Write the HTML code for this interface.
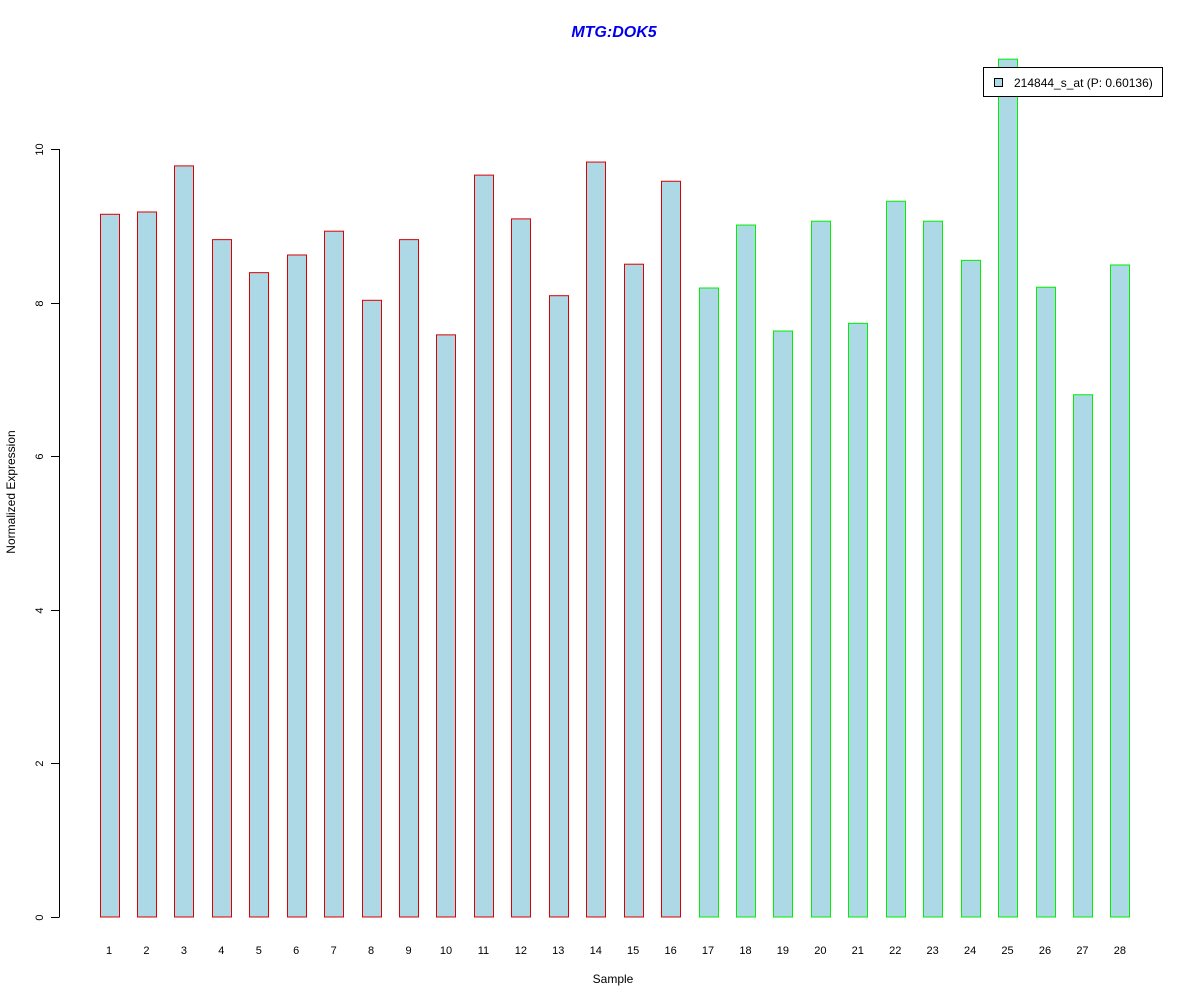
<!DOCTYPE html>
<html><head><meta charset="utf-8"><style>
body{margin:0;background:#fff;}
svg{display:block;font-family:"Liberation Sans",Arial,sans-serif;}
</style></head><body>
<svg id="chart" width="1200" height="1000" viewBox="0 0 1200 1000" xmlns="http://www.w3.org/2000/svg">
<rect width="1200" height="1000" fill="#fff"/>
<text x="614" y="37" text-anchor="middle" font-size="16" font-weight="bold" font-style="italic" fill="#0000ee">MTG:DOK5</text>
<text x="613" y="983" text-anchor="middle" font-size="12">Sample</text>
<text transform="translate(15,492) rotate(-90)" text-anchor="middle" font-size="12">Normalized Expression</text>
<g id="bars"></g>
<g id="yaxis"></g>
<g id="xlabels"></g>
<g>
<rect x="983.5" y="67.5" width="179" height="29" fill="#fff" stroke="#000"/>
<rect x="994.5" y="78.5" width="8" height="8" fill="#add8e6" stroke="#000"/>
<text x="1014" y="87" font-size="12">214844_s_at (P: 0.60136)</text>
</g>
</svg>
<script>
const categories = ["1","2","3","4","5","6","7","8","9","10","11","12","13","14","15","16","17","18","19","20","21","22","23","24","25","26","27","28"];
const values = [9.15,9.18,9.78,8.82,8.39,8.62,8.93,8.03,8.82,7.58,9.66,9.09,8.09,9.83,8.50,9.58,8.19,9.01,7.63,9.06,7.73,9.32,9.06,8.55,11.17,8.20,6.80,8.49];
const groups = ["a","a","a","a","a","a","a","a","a","a","a","a","a","a","a","a","b","b","b","b","b","b","b","b","b","b","b","b"];
const yTicks = [0,2,4,6,8,10];
const NS="http://www.w3.org/2000/svg";
const y0=917, pxPerUnit=76.8;
function yScale(v){return y0 - v*pxPerUnit;}
function xScale(i){return 109 + i*37.44;}
const bars=document.getElementById('bars');
values.forEach((v,i)=>{
  const r=document.createElementNS(NS,'rect');
  
  
  const cx=xScale(i);
  r.setAttribute('x',(Math.round(cx-9.5)+0.5));
  r.setAttribute('y',yScale(v));
  r.setAttribute('width',19);
  r.setAttribute('height',y0-yScale(v));
  r.setAttribute('fill','#add8e6');
  r.setAttribute('stroke',groups[i]==='a'?'#dd0000':'#00ee00');
  bars.appendChild(r);
  const t=document.createElementNS(NS,'text');
  
  
  t.setAttribute('x',cx);t.setAttribute('y',954);
  t.setAttribute('text-anchor','middle');t.setAttribute('font-size','11');
  t.textContent=categories[i];
  document.getElementById('xlabels').appendChild(t);
});
const ya=document.getElementById('yaxis');
const al=document.createElementNS(NS,'line');


al.setAttribute('x1',59.5);al.setAttribute('x2',59.5);
al.setAttribute('y1',yScale(yTicks[0]));al.setAttribute('y2',yScale(yTicks[yTicks.length-1]));
al.setAttribute('stroke','#000');ya.appendChild(al);
yTicks.forEach(v=>{
  const y=Math.round(yScale(v))+0.5;
  const l=document.createElementNS(NS,'line');
  
  
  l.setAttribute('x1',51);l.setAttribute('x2',59.5);l.setAttribute('y1',y);l.setAttribute('y2',y);
  l.setAttribute('stroke','#000');ya.appendChild(l);
  const t=document.createElementNS(NS,'text');
  
  
  t.setAttribute('transform','translate(43,'+y+') rotate(-90)');
  t.setAttribute('text-anchor','middle');t.setAttribute('font-size','11');
  t.textContent=v;ya.appendChild(t);
});
</script>
</body></html>
